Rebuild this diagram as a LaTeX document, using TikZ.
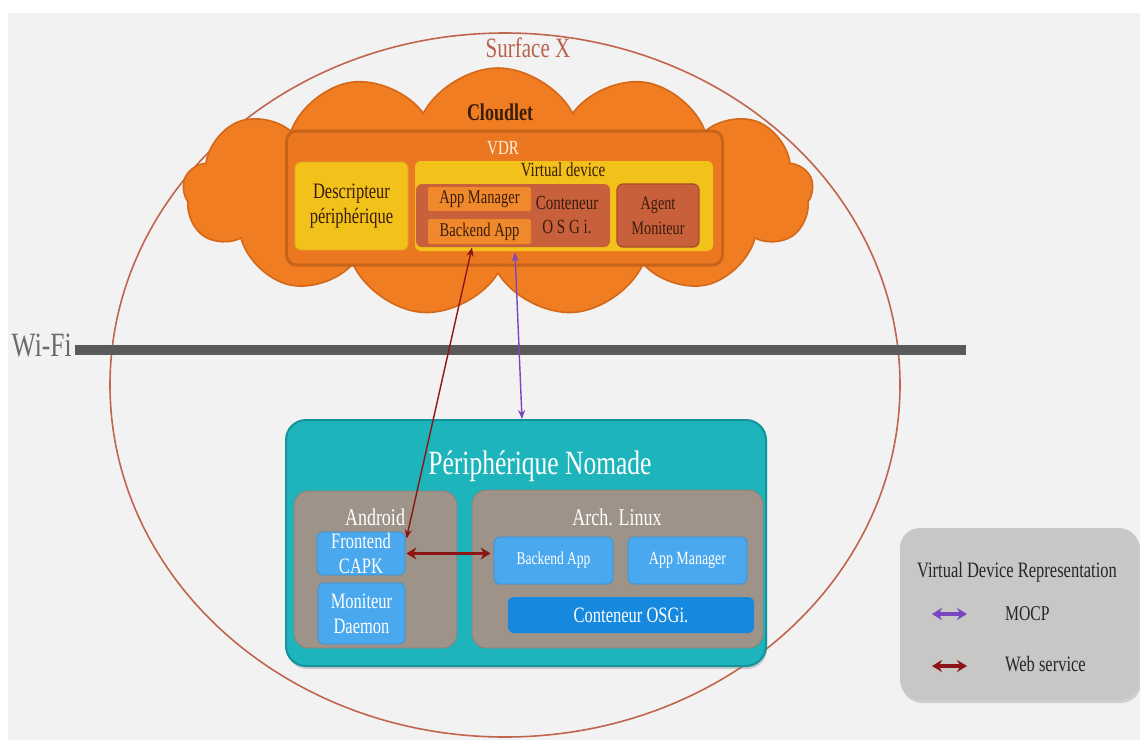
\documentclass[tikz,border=0pt]{standalone}
\usepackage{fontspec}
\setmainfont{Liberation Serif}[FakeStretch=0.75]
\usetikzlibrary{shapes.geometric,shapes.symbols,calc,shadows,arrows.meta}
\definecolor{bggray}{HTML}{F2F2F2}
\definecolor{surfline}{HTML}{C0654E}
\definecolor{surftext}{HTML}{B8634F}
\definecolor{cloudfill}{HTML}{F07D22}
\definecolor{cloudline}{HTML}{D46818}
\definecolor{vdrfill}{HTML}{EB7820}
\definecolor{vdrline}{HTML}{C8631A}
\definecolor{vdrtext}{HTML}{FFF0DC}
\definecolor{yel}{HTML}{F2C21A}
\definecolor{yeldark}{HTML}{E0A818}
\definecolor{brick}{HTML}{C8603C}
\definecolor{brickdark}{HTML}{A84A2C}
\definecolor{appfill}{HTML}{F0892C}
\definecolor{darktext}{HTML}{3A1C0C}
\definecolor{nomadefill}{HTML}{1DB4BC}
\definecolor{nomadeline}{HTML}{14939B}
\definecolor{osgray}{HTML}{9D9388}
\definecolor{osgraydark}{HTML}{8A8176}
\definecolor{lightblue}{HTML}{4AA8EE}
\definecolor{lightbluedark}{HTML}{3A92D6}
\definecolor{darkblue}{HTML}{1688DE}
\definecolor{wsred}{HTML}{8E1515}
\definecolor{mocpviolet}{HTML}{7B45C2}
\definecolor{legfill}{HTML}{C7C7C5}
\definecolor{wifigray}{HTML}{5A5A5A}
\definecolor{wifitext}{HTML}{6A6A6A}
\tikzset{
    box/.style={rectangle, rounded corners=3pt, inner sep=0pt, align=center},
    cloudtxt/.style={text=darktext, align=center},
    whitetxt/.style={text=white, align=center},
    bluebox/.style={box, fill=lightblue, draw=lightbluedark, line width=0.4pt, whitetxt},
    thintip/.style={{Stealth[length=4.5pt,width=3.5pt]}-{Stealth[length=4.5pt,width=3.5pt]}},
    thicktip/.style={{Stealth[length=5pt,width=6pt]}-{Stealth[length=5pt,width=6pt]}},
    wsarrow/.style={wsred},
    mocparrow/.style={mocpviolet},
}
\begin{document}
\begin{tikzpicture}[x=0.5pt,y=-0.5pt]
        \useasboundingbox (0,0) rectangle (1140,740);
        \fill[bggray] (8,13) rectangle (1140,740);
        \node[ellipse, draw=surfline, line width=0.8pt, inner sep=0pt, minimum width=395pt, minimum height=352pt] (surface) at (505,385) {};
        \node[text=surftext, font=\fontsize{14}{16}\selectfont] (surfacelbl) at (528,48) {Surface X};
        \node[cloud, cloud puffs=13, cloud puff arc=125, cloud ignores aspect, fill=cloudfill, draw=cloudline, line width=0.8pt, inner sep=0pt, minimum width=315pt, minimum height=124pt] (cloudlet) at (498,192) {};
        \node[cloudtxt, font=\bfseries\fontsize{12}{14}\selectfont] (cloudlbl) at (500,112) {Cloudlet};
        \node[box, fill=vdrfill, draw=vdrline, line width=1.5pt, rounded corners=5pt, minimum width=218pt, minimum height=67pt] (vdr) at (504.5,198) {};
        \node[text=vdrtext, font=\fontsize{10}{12}\selectfont] (vdrlbl) at (503,148) {VDR};
        \node[box, fill=yel, draw=yeldark, line width=0.4pt, minimum width=56.5pt, minimum height=44pt, cloudtxt, font=\fontsize{11}{12.5}\selectfont] (desc) at (351.5,206) {Descripteur\\périphérique};
        \node[box, fill=yel, minimum width=149pt, minimum height=45pt] (vdev) at (564,206) {};
        \node[cloudtxt, font=\fontsize{10}{12}\selectfont] (vdevlbl) at (563,170) {Virtual device};
        \node[box, fill=brick, minimum width=97pt, minimum height=31.5pt] (osgi) at (513,215.5) {};
        \node[cloudtxt, font=\fontsize{10}{12}\selectfont] (osgilbl) at (567,215) {Conteneur\\O S G i.};
        \node[box, rounded corners=1pt, fill=appfill, minimum width=51.5pt, minimum height=12pt, cloudtxt, font=\fontsize{9.7}{11}\selectfont] (appmgr) at (479.5,199) {App Manager};
        \node[box, rounded corners=1pt, fill=appfill, minimum width=51.5pt, minimum height=12.5pt, cloudtxt, font=\fontsize{9.7}{11}\selectfont] (backend) at (479.5,231.5) {Backend App};
        \node[box, fill=brick, draw=brickdark, line width=0.6pt, minimum width=41pt, minimum height=31.5pt, cloudtxt, font=\fontsize{9.5}{12.5}\selectfont] (agent) at (658,215.5) {Agent\\Moniteur};
        \node[text=wifitext, anchor=east, inner sep=0pt, font=\fontsize{17}{20}\selectfont] (wifi) at (72,345) {Wi-Fi};
        \coordinate (wifiend) at (966,350);
        \draw[wifigray, line width=5pt] ($(wifi.east |- wifiend)+(3,0)$) -- (wifiend);
        \node[box, fill=nomadefill, draw=nomadeline, line width=1pt, rounded corners=10pt, minimum width=240pt, minimum height=123pt, drop shadow={shadow xshift=0.5pt, shadow yshift=-1.5pt, opacity=0.35}] (nomade) at (526,543) {};
        \node[whitetxt, font=\fontsize{17}{20}\selectfont] (nomadelbl) at (540,466) {Périphérique Nomade};
        \node[box, fill=osgray, draw=osgraydark, line width=0.4pt, rounded corners=7pt, minimum width=81.5pt, minimum height=78.5pt] (android) at (375.5,569.5) {};
        \node[whitetxt, font=\fontsize{12}{14}\selectfont] (androidlbl) at (375,517) {Android};
        \node[box, fill=osgray, draw=osgraydark, line width=0.4pt, rounded corners=7pt, minimum width=145.5pt, minimum height=79pt] (linux) at (617.5,569) {};
        \node[whitetxt, font=\fontsize{12}{14}\selectfont] (linuxlbl) at (617,517) {Arch. Linux};
        \node[bluebox, minimum width=44pt, minimum height=21.5pt, font=\fontsize{11}{12.5}\selectfont] (frontend) at (361,553.5) {Frontend\\CAPK};
        \node[bluebox, minimum width=43.5pt, minimum height=30.5pt, font=\fontsize{11}{12.5}\selectfont] (daemon) at (361.5,613.5) {Moniteur\\Daemon};
        \node[bluebox, minimum width=59.5pt, minimum height=23.5pt, font=\fontsize{9}{11}\selectfont] (lbackend) at (553.5,560.5) {Backend App};
        \node[bluebox, minimum width=59.5pt, minimum height=23.5pt, font=\fontsize{9.3}{11}\selectfont] (lappmgr) at (687.5,560.5) {App Manager};
        \node[box, fill=darkblue, minimum width=123pt, minimum height=18pt, whitetxt, font=\fontsize{11}{13}\selectfont] (losgi) at (631,615) {Conteneur OSGi.};
        \node[box, fill=legfill, rounded corners=10pt, minimum width=119.5pt, minimum height=86pt, drop shadow={shadow xshift=1pt, shadow yshift=-1.5pt, opacity=0.3}] (legend) at (1019.5,614) {};
        \node[text=black!85, font=\fontsize{11}{13}\selectfont] (legtitle) at (1017,572) {Virtual Device Representation};
        \node[text=black!85, anchor=west, font=\fontsize{10.5}{13}\selectfont] (mocplbl) at (998,614) {MOCP};
        \node[text=black!85, anchor=west, font=\fontsize{11}{13}\selectfont] (wslbl) at (998,664) {Web service};
        \coordinate (mocpa) at (932,614);
        \coordinate (mocpb) at (967,614);
        \coordinate (wsa) at (932,666);
        \coordinate (wsb) at (967,666);
        \draw[mocparrow, thicktip, line width=2pt] (mocpa) -- (mocpb);
        \draw[wsarrow, thicktip, line width=2pt] (wsa) -- (wsb);
        \draw[mocparrow, thintip, line width=0.7pt] ($(osgi.south)+(2,5)$) -- ($(nomade.north)+(-4,0)$);
        \draw[wsarrow, thintip, line width=0.7pt] ($(backend.south)+(-7.5,3)$) -- ($(frontend.east)+(1,-15)$);
        \draw[wsarrow, thicktip, line width=1.5pt] ($(frontend.east)+(1,0)$) -- ($(frontend.east -| lbackend.west)+(-3,0)$);
    \end{tikzpicture}
\end{document}
